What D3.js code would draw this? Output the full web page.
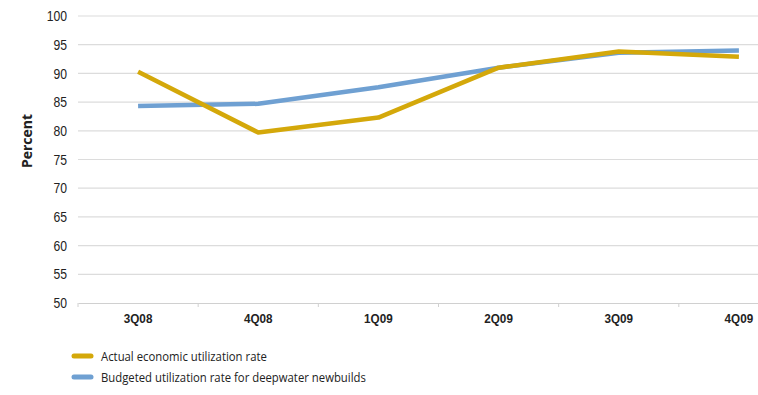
<!DOCTYPE html>
<html>
<head>
<meta charset="utf-8">
<script src="https://cdn.jsdelivr.net/npm/d3@7"></script>
<style>
  html, body { margin: 0; padding: 0; background: #fff; }
  svg { display: block; font-family: "Open Sans", sans-serif; }
</style>
</head>
<body>
<svg id="chart" width="758" height="395"></svg>
<script>
// Quarterly utilization rates (percent)
const quarters = ["3Q08", "4Q08", "1Q09", "2Q09", "3Q09", "4Q09"];
const actualRate = [90.3, 79.7, 82.3, 91.0, 93.8, 92.9];
const budgetedRate = [84.3, 84.7, 87.6, 91.0, 93.6, 94.0];
const yTicks = [50, 55, 60, 65, 70, 75, 80, 85, 90, 95, 100];
const seriesNames = ["Actual economic utilization rate", "Budgeted utilization rate for deepwater newbuilds"];
const seriesColors = ["#D4A80A", "#6FA0D2"];

const svg = d3.select("#chart");
const plot = { left: 78, right: 799, top: 16, bottom: 303 };
const narrow = 0.84; // horizontal squeeze for a condensed look

const x = d3.scaleBand().domain(quarters).range([plot.left, plot.right]);
const y = d3.scaleLinear().domain([50, 100]).range([plot.bottom, plot.top]);

// Horizontal gridlines
svg.append("g")
  .selectAll("line")
  .data(yTicks.slice(1))
  .join("line")
  .attr("x1", plot.left).attr("x2", plot.right)
  .attr("y1", d => y(d)).attr("y2", d => y(d))
  .attr("stroke", "#dcdcdc").attr("stroke-width", 1.2);

// Y axis labels
const yAxis = svg.append("g")
  .attr("transform", `translate(${plot.left},0)`)
  .call(d3.axisLeft(y).tickValues(yTicks).tickSize(0));
yAxis.select(".domain").remove();
yAxis.selectAll("text")
  .attr("x", -11 / narrow)
  .attr("transform", `scale(${narrow},1)`)
  .attr("font-size", 14.5).attr("fill", "#222");

// X axis with band separators
const xAxis = svg.append("g")
  .attr("transform", `translate(0,${plot.bottom})`)
  .call(d3.axisBottom(x).tickSize(0).tickPadding(11));
xAxis.select(".domain").attr("stroke", "#d0d0d0").attr("stroke-width", 1.2);
xAxis.selectAll("text")
  .attr("font-size", 13).attr("font-weight", "bold").attr("fill", "#222");
xAxis.selectAll(".tick text")
  .attr("transform", `scale(0.9,1)`)
  .attr("x", 0);
xAxis.selectAll(".tick").each(function(d) {
  // keep each label centred on its band after the squeeze
  d3.select(this).select("text").attr("transform", "scale(0.9,1)");
});
xAxis.append("g")
  .selectAll("line")
  .data(quarters)
  .join("line")
  .attr("x1", d => x(d)).attr("x2", d => x(d))
  .attr("y1", 0).attr("y2", 4)
  .attr("stroke", "#d0d0d0").attr("stroke-width", 1);

// Y axis title
svg.append("text")
  .attr("transform", `translate(32,141) rotate(-90)`)
  .attr("text-anchor", "middle")
  .attr("font-size", 14).attr("font-weight", "bold").attr("fill", "#222")
  .text("Percent");

// Series lines
const line = d3.line()
  .x((d, i) => x(quarters[i]) + x.bandwidth() / 2)
  .y(d => y(d));

[[budgetedRate, seriesColors[1]], [actualRate, seriesColors[0]]].forEach(([vals, color]) => {
  svg.append("path")
    .datum(vals)
    .attr("d", line)
    .attr("fill", "none")
    .attr("stroke", color)
    .attr("stroke-width", 4.5)
    .attr("stroke-linejoin", "round");
});

// Legend
const legend = svg.append("g");
seriesNames.forEach((name, i) => {
  const ly = 356 + i * 21;
  legend.append("line")
    .attr("x1", 74).attr("x2", 91)
    .attr("y1", ly).attr("y2", ly)
    .attr("stroke", seriesColors[i]).attr("stroke-width", 5)
    .attr("stroke-linecap", "round");
  legend.append("text")
    .attr("transform", `translate(101,${ly + 5}) scale(${narrow},1)`)
    .attr("font-size", 13.5).attr("fill", "#222")
    .text(name);
});
</script>
</body>
</html>
